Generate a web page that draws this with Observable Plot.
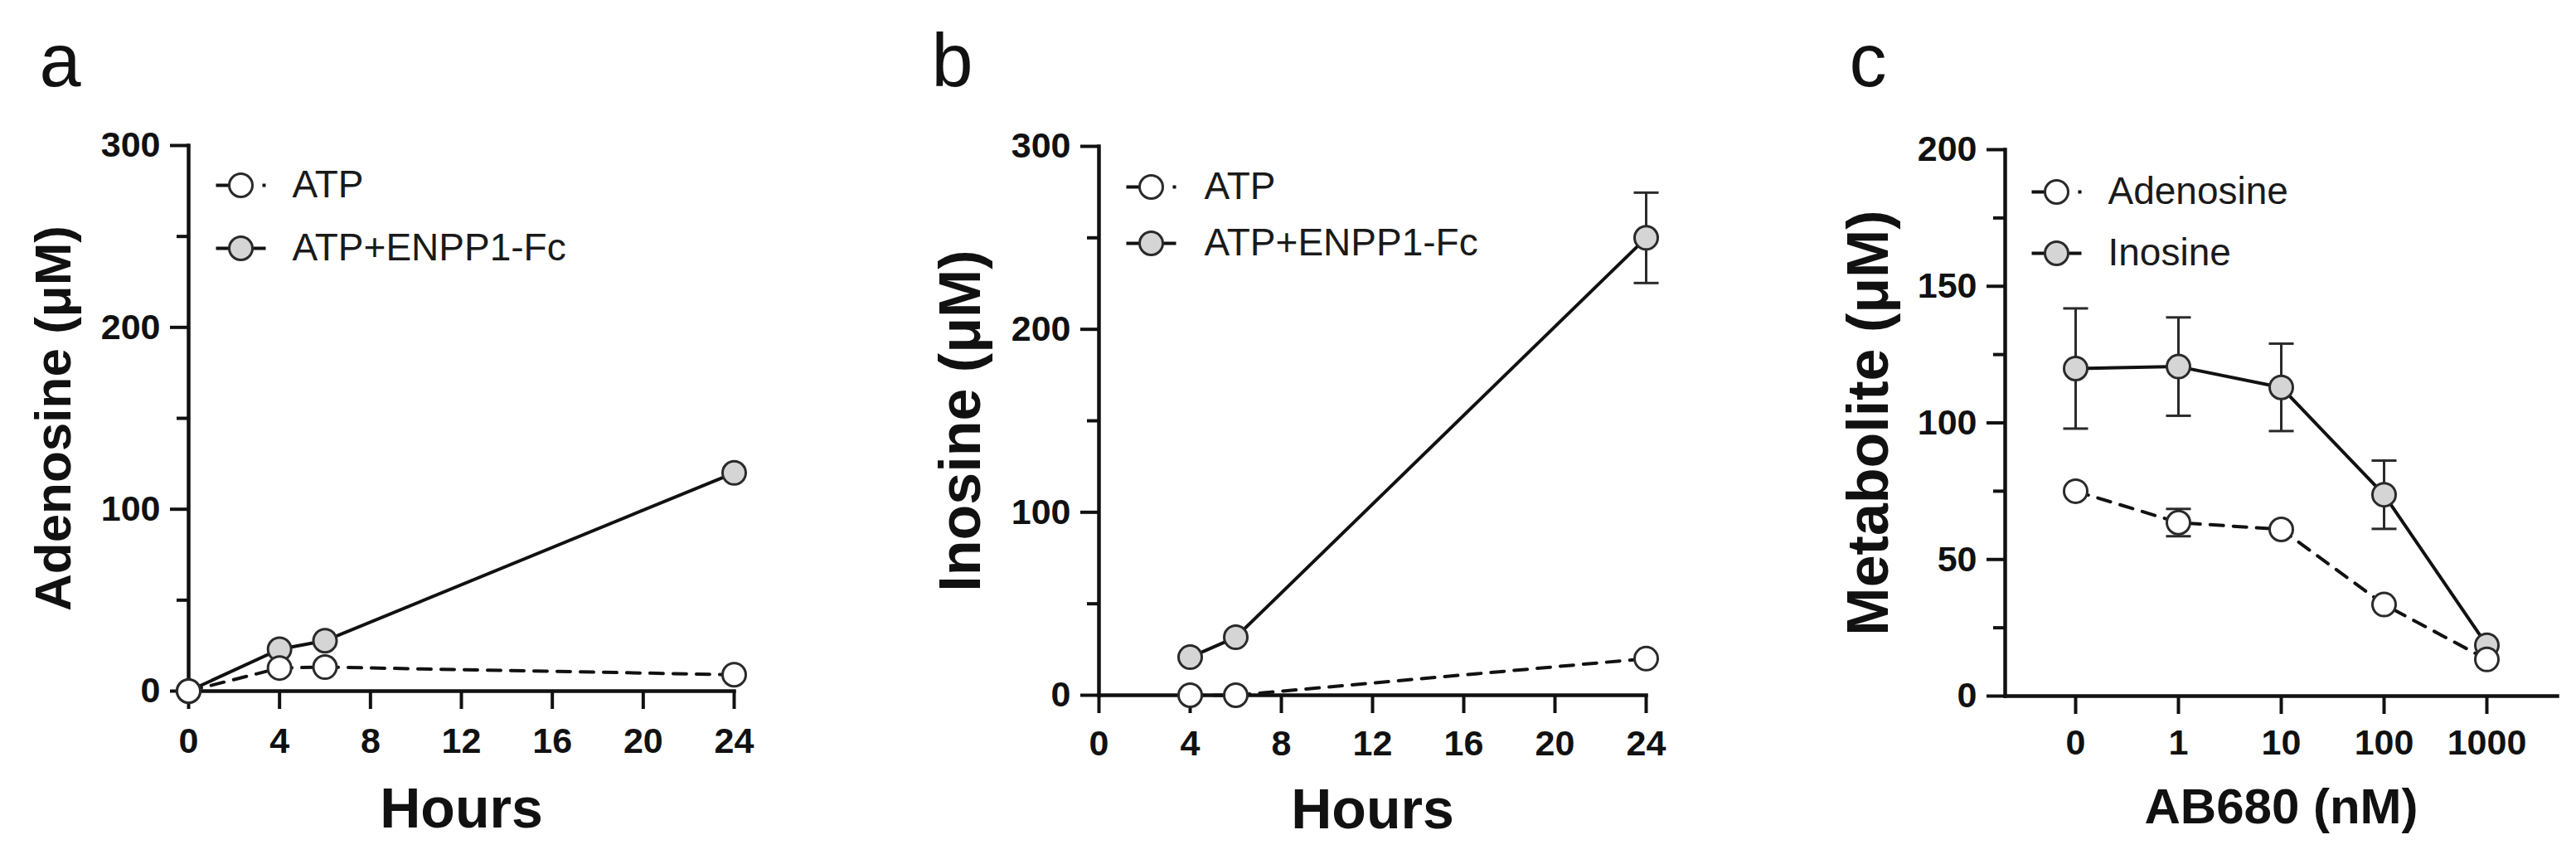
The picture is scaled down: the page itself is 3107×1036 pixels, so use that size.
<!DOCTYPE html>
<html>
<head>
<meta charset="utf-8">
<script src="https://cdn.jsdelivr.net/npm/d3@7"></script>
<script src="https://cdn.jsdelivr.net/npm/@observablehq/plot@0.6"></script>
<style>
  html, body { margin: 0; padding: 0; background: #fff; }
  #wrap { position: relative; width: 3107px; height: 1036px; background: #fff; overflow: hidden; }
  .panel { position: absolute; top: 0; }
</style>
</head>
<body>
<div id="wrap">
  <div class="panel" id="pa" style="left:0px"></div>
  <div class="panel" id="pb" style="left:1040px"></div>
  <div class="panel" id="pc" style="left:2080px"></div>
</div>
<script>
// ---------------- data ----------------
// Panel a: Adenosine (µM) vs Hours
const hoursA = [0, 4, 6, 24];
const adenosineATP = [0, 12.7, 13.2, 9];
const adenosineENPP1 = [0, 23, 27.7, 120];

// Panel b: Inosine (µM) vs Hours
const hoursB = [4, 6, 24];
const inosineATP = [0, 0, 20];
const inosineENPP1 = [20.8, 31.7, 250];
const inosineENPP1Err = [0, 0, 24.7];

// Panel c: Metabolite (µM) vs AB680 (nM)
const ab680 = ["0", "1", "10", "100", "1000"];
const adenosineC = [75, 63.5, 61, 33.5, 13.4];
const adenosineCErr = [0, 5, 0, 0, 0];
const inosineC = [119.9, 120.6, 113, 73.7, 18.6];
const inosineCErr = [22, 18, 16, 12.5, 0];

const hourTicks = [0, 4, 8, 12, 16, 20, 24];
const legendAB = ["ATP", "ATP+ENPP1-Fc"];
const legendC = ["Adenosine", "Inosine"];

// ---------------- style ----------------
const FONT = "'Liberation Sans', Arial, Helvetica, sans-serif";
const INK = "#111";
const DOT_STROKE = "#2a2a2a";
const GRAY = "#d5d5d5";
const DASH = "16,12";

const lineSym = {draw(ctx, size) { const r = Math.sqrt(size / Math.PI); ctx.moveTo(-r, 0); ctx.lineTo(r, 0); }};

function rows(xs, vs, es) {
  return xs.map((x, i) => ({x, v: vs[i], e: es ? es[i] : 0}));
}

function errorMarks(data) {
  const d = data.filter(r => r.e > 0);
  return [
    Plot.ruleX(d, {x: "x", y1: r => r.v - r.e, y2: r => r.v + r.e, stroke: DOT_STROKE, strokeWidth: 3}),
    Plot.dot(d, {x: "x", y: r => r.v + r.e, symbol: lineSym, r: 15, fill: "none", stroke: DOT_STROKE, strokeWidth: 3}),
    Plot.dot(d, {x: "x", y: r => r.v - r.e, symbol: lineSym, r: 15, fill: "none", stroke: DOT_STROKE, strokeWidth: 3})
  ];
}

function seriesMarks(data, dashed) {
  return [
    Plot.line(data, {x: "x", y: "v", stroke: INK, strokeWidth: 4, strokeDasharray: dashed ? DASH : null}),
  ];
}
function dotMarks(data, fill) {
  return [Plot.dot(data, {x: "x", y: "v", r: 14, fill, stroke: DOT_STROKE, strokeWidth: 3})];
}

function legendRow(label, dx, dy, tdx, dashed, fill) {
  return [
    Plot.dot([label], {frameAnchor: "top-left", dx, dy, r: 30, symbol: lineSym, fill: "none", stroke: INK, strokeWidth: 4, strokeDasharray: dashed ? DASH : null}),
    Plot.dot([label], {frameAnchor: "top-left", dx, dy, r: 14, fill, stroke: DOT_STROKE, strokeWidth: 3}),
    Plot.text([label], {frameAnchor: "top-left", dx: tdx, dy, text: d => d, textAnchor: "start", lineAnchor: "middle", fontSize: 46, fill: "#1a1a1a", fontFamily: FONT})
  ];
}

function axesMarks({xTicks, yMajor, yMinor, xPad}) {
  return [
    Plot.axisY({ticks: yMajor, tickSize: 22, tickPadding: 12, strokeWidth: 4, stroke: INK, fontSize: 43, fontWeight: "bold", fontFamily: FONT, fill: INK, label: null, tickFormat: d => String(d)}),
    Plot.axisY({ticks: yMinor, tickSize: 14, strokeWidth: 4, stroke: INK, text: null, label: null}),
    Plot.axisX({ticks: xTicks, tickSize: 22, tickPadding: xPad, strokeWidth: 4, stroke: INK, fontSize: 43, fontWeight: "bold", fontFamily: FONT, fill: INK, label: null, tickFormat: d => String(d)}),
    Plot.frame({anchor: "left", stroke: INK, strokeWidth: 4.5}),
    Plot.frame({anchor: "bottom", stroke: INK, strokeWidth: 4.5})
  ];
}

function labelMarks({letter, ldx, ldy, xLabel, xdy, xSize, yLabel, ydx, ySize}) {
  return [
    Plot.text([letter], {frameAnchor: "top-left", dx: ldx, dy: ldy, text: d => d, textAnchor: "start", lineAnchor: "bottom", fontSize: 90, fontFamily: FONT, fill: INK}),
    Plot.text([xLabel], {frameAnchor: "bottom", dy: xdy, text: d => d, textAnchor: "middle", lineAnchor: "bottom", fontSize: xSize, fontWeight: "bold", fontFamily: FONT, fill: INK}),
    Plot.text([yLabel], {frameAnchor: "left", dx: ydx, rotate: -90, text: d => d, textAnchor: "middle", lineAnchor: "bottom", fontSize: ySize, fontWeight: "bold", fontFamily: FONT, fill: INK})
  ];
}

const baseStyle = {fontFamily: FONT, background: "white", overflow: "visible", color: INK};

// ---------------- panel a ----------------
const aATP = rows(hoursA, adenosineATP);
const aENP = rows(hoursA, adenosineENPP1);
const plotA = Plot.plot({
  width: 1040, height: 1036,
  marginLeft: 227, marginRight: 155, marginTop: 175, marginBottom: 203,
  style: baseStyle,
  x: {type: "linear", domain: [0, 24], axis: null},
  y: {type: "linear", domain: [0, 300], axis: null},
  marks: [
    ...axesMarks({xTicks: hourTicks, yMajor: [0, 100, 200, 300], yMinor: [50, 150, 250], xPad: 22}),
    ...seriesMarks(aENP, false),
    ...seriesMarks(aATP, true),
    ...dotMarks(aENP, GRAY),
    ...dotMarks(aATP, "white"),
    ...legendRow(legendAB[0], 63, 48, 125, true, "white"),
    ...legendRow(legendAB[1], 63, 124, 125, false, GRAY),
    ...labelMarks({letter: "a", ldx: -180, ldy: -72, xLabel: "Hours", xdy: 164, xSize: 68, yLabel: "Adenosine (μM)", ydx: -143, ySize: 62})
  ]
});
document.getElementById("pa").appendChild(plotA);

// ---------------- panel b ----------------
const bATP = rows(hoursB, inosineATP);
const bENP = rows(hoursB, inosineENPP1, inosineENPP1Err);
const plotB = Plot.plot({
  width: 1040, height: 1036,
  marginLeft: 285, marginRight: 95, marginTop: 176, marginBottom: 198,
  style: baseStyle,
  x: {type: "linear", domain: [0, 24], axis: null},
  y: {type: "linear", domain: [0, 300], axis: null},
  marks: [
    ...axesMarks({xTicks: hourTicks, yMajor: [0, 100, 200, 300], yMinor: [50, 150, 250], xPad: 20}),
    ...errorMarks(bENP),
    ...seriesMarks(bENP, false),
    ...seriesMarks(bATP, true),
    ...dotMarks(bENP, GRAY),
    ...dotMarks(bATP, "white"),
    ...legendRow(legendAB[0], 63, 49, 127, true, "white"),
    ...legendRow(legendAB[1], 63, 117, 127, false, GRAY),
    ...labelMarks({letter: "b", ldx: -202, ldy: -73, xLabel: "Hours", xdy: 160, xSize: 68, yLabel: "Inosine (μM)", ydx: -144, ySize: 70})
  ]
});
document.getElementById("pb").appendChild(plotB);

// ---------------- panel c ----------------
const cAde = rows(ab680, adenosineC, adenosineCErr);
const cIno = rows(ab680, inosineC, inosineCErr);
const plotC = Plot.plot({
  width: 1027, height: 1036,
  marginLeft: 338, marginRight: 23, marginTop: 180, marginBottom: 197,
  style: baseStyle,
  x: {type: "point", domain: ab680, padding: 0.675, axis: null},
  y: {type: "linear", domain: [0, 200], axis: null},
  marks: [
    ...axesMarks({xTicks: ab680, yMajor: [0, 50, 100, 150, 200], yMinor: [25, 75, 125, 175], xPad: 18}),
    ...errorMarks(cIno),
    ...errorMarks(cAde),
    ...seriesMarks(cIno, false),
    ...seriesMarks(cAde, true),
    ...dotMarks(cIno, GRAY),
    ...dotMarks(cAde, "white"),
    ...legendRow(legendC[0], 62, 51, 124, true, "white"),
    ...legendRow(legendC[1], 62, 125, 124, false, GRAY),
    ...labelMarks({letter: "c", ldx: -188, ldy: -77, xLabel: "AB680 (nM)", xdy: 153, xSize: 60, yLabel: "Metabolite (μM)", ydx: -142, ySize: 70})
  ]
});
document.getElementById("pc").appendChild(plotC);
</script>
</body>
</html>
